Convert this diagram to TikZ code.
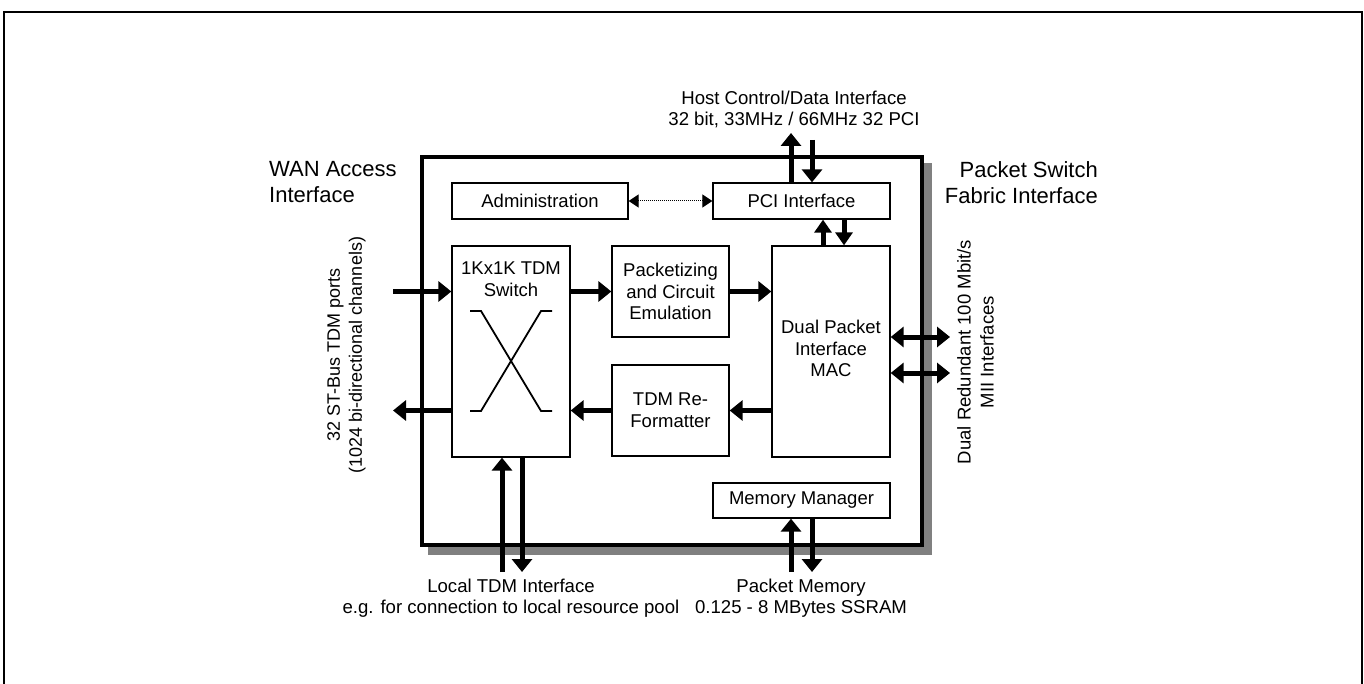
\documentclass[tikz,border=0pt]{standalone}
\usepackage{fontspec}
\setmainfont{Liberation Sans}
\usetikzlibrary{arrows.meta}
\definecolor{shadowgray}{HTML}{808080}
\begin{document}
\begin{tikzpicture}[x=1pt,y=-1pt,
  blk/.style={draw, line width=1.3pt, fill=white, inner sep=0pt, align=center, font=\fontsize{18.5}{21.7}\selectfont},
  blktxt/.style={inner sep=0pt, align=center, font=\fontsize{18.5}{21.7}\selectfont},
  fat/.style={line width=5pt, -{Triangle[length=13pt,width=20pt]}},
  fatboth/.style={line width=5pt, {Triangle[length=13pt,width=20pt]}-{Triangle[length=13pt,width=20pt]}},
  slim/.style={line width=5pt, -{Triangle[length=13pt,width=17pt]}},
  dotarrow/.style={line width=1pt, dash pattern=on 1pt off 1pt, {Triangle[length=10pt,width=13pt]}-{Triangle[length=10pt,width=13pt]}},
  lbl/.style={inner sep=0pt, align=center, font=\fontsize{18.6}{20.8}\selectfont},
  biglbl/.style={inner sep=0pt, font=\fontsize{22}{26}\selectfont},
]
\useasboundingbox (0,0) rectangle (1364,684);
\begin{scope}
  \clip (0,0) rectangle (1364,684);
  \draw[line width=2.5pt] (4,700) -- (4,12) -- (1362,12) -- (1362,700);
\end{scope}

% chip with shadow
\fill[shadowgray] (428.25,163.25) rectangle (931.75,554.75);
\node[draw, line width=3.5pt, fill=white, minimum width=500pt, minimum height=388pt, inner sep=0pt] (chip) at (672,351) {};

% blocks
\node[blk, minimum width=176pt, minimum height=36pt] (adm) at (540,201) {Administration};
\node[blk, minimum width=177pt, minimum height=36pt] (pci) at (801.5,201) {PCI Interface};
\node[blk, minimum width=118pt, minimum height=211pt] (sw) at (511,351.5) {};
\node[blktxt] (swl) at (511,279.5) {1Kx1K TDM\\Switch};
\draw[line width=1.8pt] (470,311) -- (481,311) -- (541,411) -- (552,411);
\draw[line width=1.8pt] (552,311) -- (541,311) -- (481,411) -- (470,411);
\node[blk, minimum width=117pt, minimum height=91pt] (pkt) at (670.5,291.5) {Packetizing\\and Circuit\\Emulation};
\node[blk, minimum width=117pt, minimum height=91pt] (ref) at (670.5,410.5) {TDM Re-\\Formatter};
\node[blk, minimum width=118pt, minimum height=211pt] (mac) at (831,351.5) {};
\node[blktxt] (macl) at (831,348.5) {Dual Packet\\Interface\\MAC};
\node[blk, minimum width=177pt, minimum height=35pt] (mem) at (801.5,500.5) {Memory Manager};

% free ends
\coordinate (inL) at (393,291.5);
\coordinate (outL) at (393,410.5);
\coordinate (swB1) at (502,572);
\coordinate (swB2) at (522,572);
\coordinate (memB1) at (791,572);
\coordinate (memB2) at (812,572);
\coordinate (pT1) at (791,133);
\coordinate (pT2) at (812,140);
\coordinate (pm1) at (823,0);
\coordinate (pm2) at (844,0);
\coordinate (mii1) at (950,337);
\coordinate (mii2) at (950,373);

% connectors
\draw[dotarrow] (adm.east) -- (pci.west);
\draw[fat] (inL) -- (inL -| sw.west);
\draw[fat] (sw.west |- outL) -- (outL);
\draw[fat] (sw.east |- pkt.west) -- (pkt.west);
\draw[fat] (pkt.east) -- (pkt.east -| mac.west);
\draw[fat] (mac.west |- ref.east) -- (ref.east);
\draw[fat] (ref.west) -- (ref.west -| sw.east);
\draw[fat] (swB1) -- (swB1 |- sw.south);
\draw[fat] (sw.south -| swB2) -- (swB2);
\draw[fat] (memB1) -- (memB1 |- mem.south);
\draw[fat] (mem.south -| memB2) -- (memB2);
\draw[fat] (pci.north -| pT1) -- (pT1);
\draw[fat] (pT2) -- (pT2 |- pci.north);
\draw[slim] (mac.north -| pm1) -- (pci.south -| pm1);
\draw[slim] (pci.south -| pm2) -- (mac.north -| pm2);
\draw[fatboth] (mac.east |- mii1) -- (mii1);
\draw[fatboth] (mac.east |- mii2) -- (mii2);

% labels
\node[lbl, anchor=north] (host) at (794,90.6) {Host Control/Data Interface\\32 bit, 33MHz / 66MHz 32 PCI};
\node[biglbl, anchor=north west, align=left] (wan) at (269,161) {WAN Access\\Interface};
\node[biglbl, anchor=north east, align=right] (psf) at (1098,161) {Packet Switch\\Fabric Interface};
\node[lbl, rotate=90, font=\fontsize{18}{22}\selectfont] (stbus) at (346.5,355) {32 ST-Bus TDM ports\\(1024 bi-directional channels)};
\node[lbl, rotate=90, font=\fontsize{18.5}{23}\selectfont] (miil) at (975.5,352) {Dual Redundant 100 Mbit/s\\MII Interfaces};
\node[lbl, anchor=north] (ltdm) at (511,578.6) {Local TDM Interface\\e.g. for connection to local resource pool};
\node[lbl, anchor=north] (pmem) at (801,578.6) {Packet Memory\\0.125 - 8 MBytes SSRAM};
\end{tikzpicture}
\end{document}
